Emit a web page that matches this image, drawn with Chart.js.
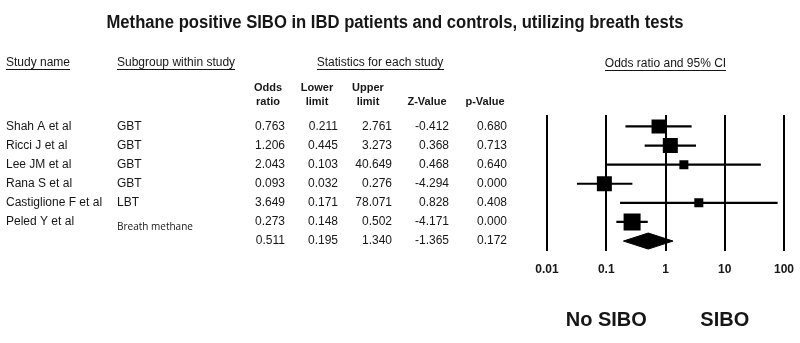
<!DOCTYPE html>
<html>
<head>
<meta charset="utf-8">
<script src="https://cdn.jsdelivr.net/npm/chart.js@4/dist/chart.umd.min.js"></script>
<style>
    html, body { margin: 0; padding: 0; background: #fff; }
    #wrap { width: 800px; height: 343px; position: relative; }
</style>
</head>
<body>
<div id="wrap"><canvas id="forest" width="800" height="343"></canvas></div>
<script>
const titleText = 'Methane positive SIBO in IBD patients and controls, utilizing breath tests';

const studies = ['Shah A et al', 'Ricci J et al', 'Lee JM et al', 'Rana S et al', 'Castiglione F et al', 'Peled Y et al'];
const subgroups = ['GBT', 'GBT', 'GBT', 'GBT', 'LBT', 'Breath methane'];
const oddsRatio = [0.763, 1.206, 2.043, 0.093, 3.649, 0.273];
const lowerLimit = [0.211, 0.445, 0.103, 0.032, 0.171, 0.148];
const upperLimit = [2.761, 3.273, 40.649, 0.276, 78.071, 0.502];
const zValue = [-0.412, 0.368, 0.468, -4.294, 0.828, -4.171];
const pValue = [0.680, 0.713, 0.640, 0.000, 0.408, 0.000];
const squareSide = [14, 15, 9, 15, 9, 17];

// summary row: odds ratio, lower, upper, z, p
const summaryStats = [0.511, 0.195, 1.340, -1.365, 0.172];

const xTicks = [0.01, 0.1, 1, 10, 100];
const sideLabels = [{ text: 'No SIBO', at: 0.1 }, { text: 'SIBO', at: 10 }];

const FONT = "'Liberation Sans', Arial, sans-serif";
const INK = '#161616';
const summaryRow = studies.length;

// error bar segments, one dataset per study
const ciSets = studies.map((s, i) => ({
    type: 'line',
    data: [{ x: lowerLimit[i], y: i }, { x: upperLimit[i], y: i }],
    borderColor: '#000',
    borderWidth: 2.2,
    pointRadius: 0,
    fill: false
}));

const squares = {
    type: 'scatter',
    data: oddsRatio.map((v, i) => ({ x: v, y: i })),
    pointStyle: 'rect',
    pointRadius: squareSide.map(s => s / (2 * Math.SQRT1_2)),
    backgroundColor: '#000',
    borderWidth: 0
};

const halfDiamond = 0.42;
const diamondTop = {
    type: 'line',
    data: [
        { x: summaryStats[1], y: summaryRow },
        { x: summaryStats[0], y: summaryRow - halfDiamond },
        { x: summaryStats[2], y: summaryRow }
    ],
    borderColor: '#000',
    borderWidth: 1,
    pointRadius: 0,
    tension: 0,
    fill: false
};
const diamondBottom = {
    type: 'line',
    data: [
        { x: summaryStats[1], y: summaryRow },
        { x: summaryStats[0], y: summaryRow + halfDiamond },
        { x: summaryStats[2], y: summaryRow }
    ],
    borderColor: '#000',
    backgroundColor: '#000',
    borderWidth: 1,
    pointRadius: 0,
    tension: 0,
    fill: '-1'
};

function fmt(v) {
    return v.toFixed(3);
}

function text(ctx, str, x, y, font, align, maxWidth) {
    ctx.font = font;
    ctx.textAlign = align || 'left';
    ctx.textBaseline = 'middle';
    ctx.fillStyle = INK;
    if (maxWidth) {
        ctx.fillText(str, x, y, maxWidth);
    } else {
        ctx.fillText(str, x, y);
    }
}

function underlined(ctx, str, x, y, font, align) {
    text(ctx, str, x, y, font, align);
    const w = ctx.measureText(str).width;
    const x0 = align === 'center' ? x - w / 2 : x;
    ctx.fillRect(Math.round(x0), Math.round(y + 6), Math.round(w), 1);
}

const tablePlugin = {
    id: 'forestTable',
    afterDraw(chart) {
        const ctx = chart.ctx;
        const ys = chart.scales.y;
        const xs = chart.scales.x;
        const area = chart.chartArea;
        const regular = '12px ' + FONT;
        const bold = 'bold 11px ' + FONT;

        ctx.save();

        text(ctx, titleText, 395, 23, 'bold 18px ' + FONT, 'center', 577);

        underlined(ctx, 'Study name', 6, 63, regular, 'left');
        underlined(ctx, 'Subgroup within study', 117, 63, regular, 'left');
        underlined(ctx, 'Statistics for each study', 380, 63, regular, 'center');
        underlined(ctx, 'Odds ratio and 95% CI', (area.left + area.right) / 2, 64, regular, 'center');

        // column headers
        const colRight = [285, 338, 392, 449, 507];
        const headCenter = [268, 317, 368, 427, 485];
        const headTop = ['Odds', 'Lower', 'Upper', '', ''];
        const headBottom = ['ratio', 'limit', 'limit', 'Z-Value', 'p-Value'];
        headCenter.forEach((cx, k) => {
            if (headTop[k]) text(ctx, headTop[k], cx, 88, bold, 'center');
            text(ctx, headBottom[k], cx, 102, bold, 'center');
        });

        studies.forEach((name, i) => {
            const y = ys.getPixelForValue(i);
            text(ctx, name, 6, y, regular, 'left');
            if (subgroups[i].length > 3) {
                text(ctx, subgroups[i], 117, y + 5, "10px 'Open Sans', " + FONT, 'left');
            } else {
                text(ctx, subgroups[i], 117, y, regular, 'left');
            }
            const vals = [oddsRatio[i], lowerLimit[i], upperLimit[i], zValue[i], pValue[i]];
            vals.forEach((v, k) => text(ctx, fmt(v), colRight[k], y, regular, 'right'));
        });

        const ySum = ys.getPixelForValue(summaryRow);
        summaryStats.forEach((v, k) => text(ctx, fmt(v), colRight[k], ySum, regular, 'right'));

        sideLabels.forEach(l => {
            text(ctx, l.text, xs.getPixelForValue(l.at), 320, 'bold 20px ' + FONT, 'center');
        });

        ctx.restore();
    }
};

new Chart(document.getElementById('forest'), {
    type: 'scatter',
    data: {
        datasets: [...ciSets, squares, diamondTop, diamondBottom]
    },
    options: {
        responsive: false,
        animation: false,
        layout: {
            padding: { left: 547, right: 16, top: 115, bottom: 54 }
        },
        plugins: {
            legend: { display: false },
            tooltip: { enabled: false }
        },
        scales: {
            x: {
                type: 'logarithmic',
                min: 0.01,
                max: 100,
                afterBuildTicks: (scale) => {
                    scale.ticks = xTicks.map(v => ({ value: v, major: true }));
                },
                // labels at the ends may overflow the plot area; keep the layout padding in charge
                afterFit: (scale) => {
                    scale.paddingLeft = 0;
                    scale.paddingRight = 0;
                },
                ticks: {
                    autoSkip: false,
                    maxRotation: 0,
                    padding: 12,
                    color: INK,
                    font: { family: FONT, size: 12, weight: 'bold' },
                    callback: (v) => String(v)
                },
                grid: {
                    color: '#000',
                    lineWidth: 2,
                    drawTicks: false
                },
                border: { display: false }
            },
            y: {
                type: 'linear',
                display: false,
                reverse: true,
                min: -0.6,
                max: 6.5
            }
        }
    },
    plugins: [tablePlugin]
});
</script>
</body>
</html>
